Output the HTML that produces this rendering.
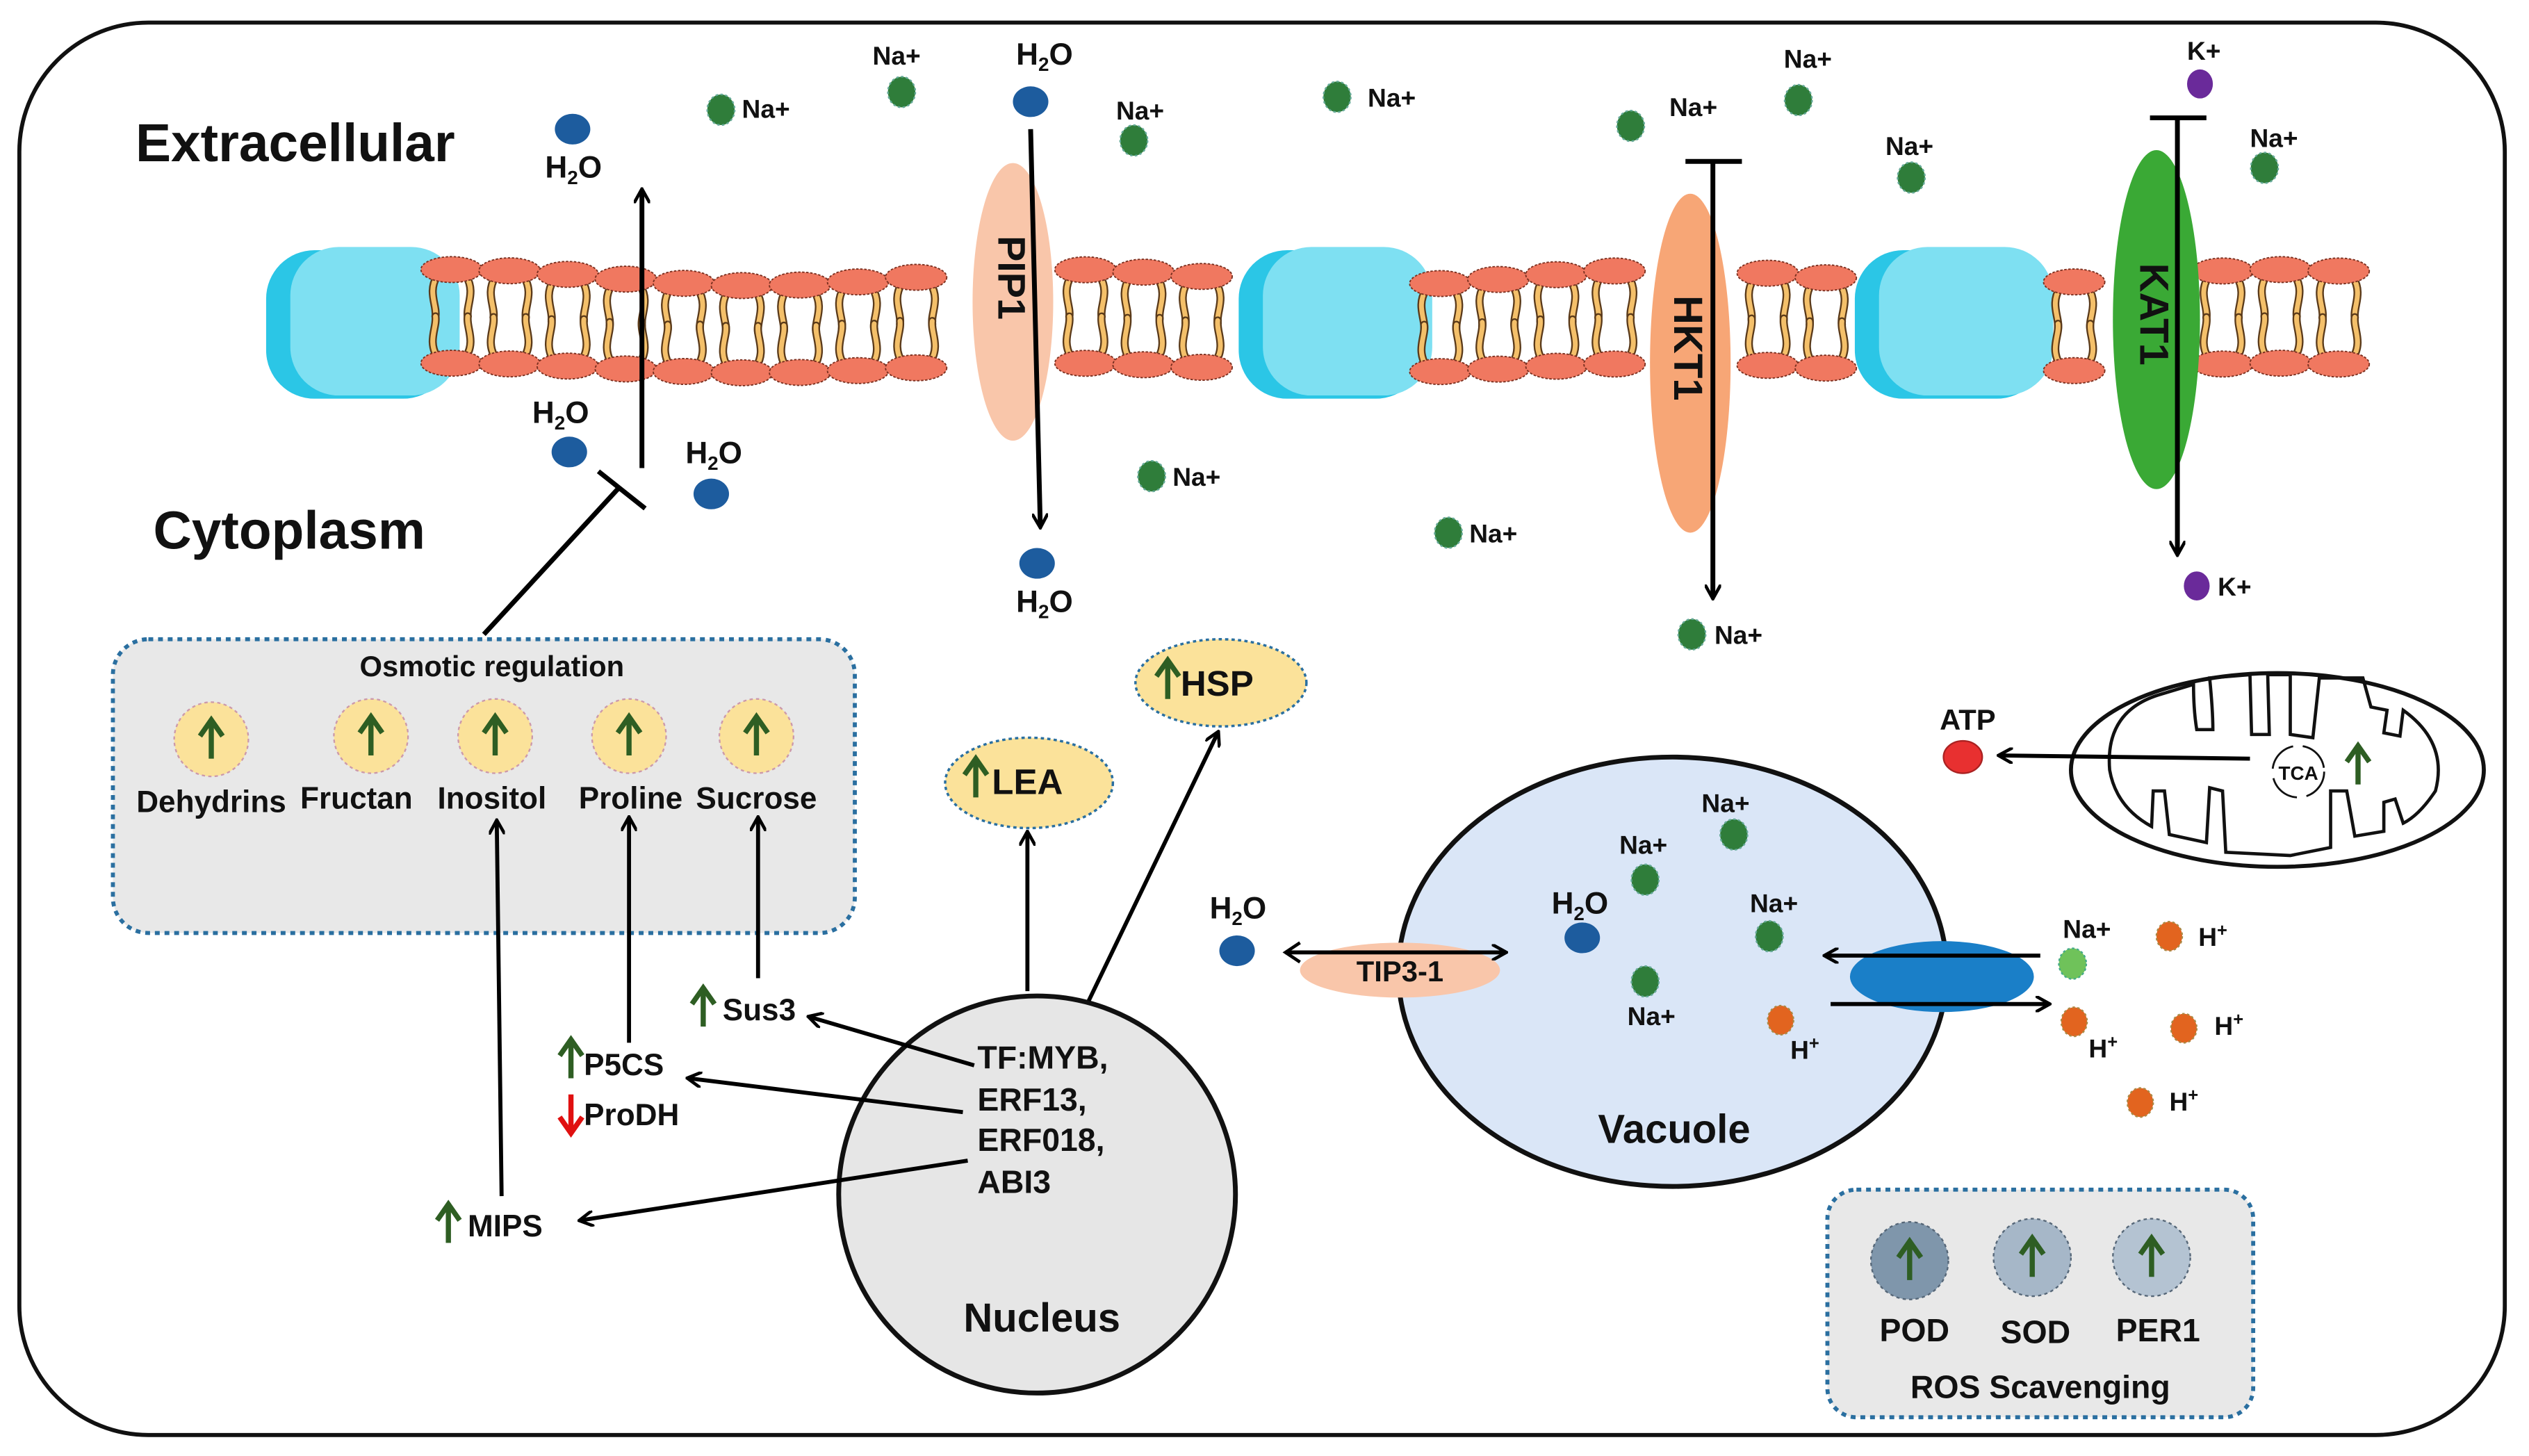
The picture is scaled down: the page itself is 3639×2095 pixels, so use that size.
<!DOCTYPE html>
<html><head><meta charset="utf-8"><style>
html,body{margin:0;padding:0;background:#fff}
svg{display:block}
text{font-family:"Liberation Sans",Arial,sans-serif;font-weight:bold;fill:#111}
</style></head><body>
<svg id="s" width="3639" height="2095" viewBox="0 0 1568 902" preserveAspectRatio="none" xmlns="http://www.w3.org/2000/svg">
<defs>
<marker id="ah" markerWidth="10" markerHeight="10" refX="8" refY="5" orient="auto" markerUnits="userSpaceOnUse"><path d="M0,0 L9,5 L0,10" fill="none" stroke="#000" stroke-width="2"/></marker>
<g id="na"><ellipse rx="8.5" ry="9.5" fill="#2f7d3a" stroke="#6a9" stroke-width="1" stroke-dasharray="1.5 1.5"/></g>
<g id="h2o"><ellipse rx="11" ry="9.5" fill="#1d5c9e"/></g>
<g id="hp"><ellipse rx="8" ry="9" fill="#e2641f" stroke="#a84" stroke-width="1" stroke-dasharray="1.5 1.5"/></g>
<g id="ga"><line x1="0" y1="12" x2="0" y2="-10" stroke="#2e5e23" stroke-width="3.2"/><path d="M-7,-2 L0,-12 L7,-2" fill="none" stroke="#2e5e23" stroke-width="3.2"/></g>
</defs>
<rect x="12" y="14" width="1541" height="875" rx="80" fill="#fff" stroke="#111" stroke-width="2.5"/>

<!-- cyan proteins -->
<rect x="165" y="155" width="115" height="92" rx="30" fill="#2bc6e6"/>
<rect x="180" y="153" width="105" height="92" rx="30" fill="#7ee0f2"/>
<rect x="768" y="155" width="115" height="92" rx="30" fill="#2bc6e6"/>
<rect x="783" y="153" width="105" height="92" rx="30" fill="#7ee0f2"/>
<rect x="1150" y="155" width="118" height="92" rx="30" fill="#2bc6e6"/>
<rect x="1165" y="153" width="108" height="92" rx="30" fill="#7ee0f2"/>
<g id="mem"></g>

<!-- transporters -->
<ellipse cx="628" cy="187" rx="25" ry="86" fill="#f9c6aa"/>
<text x="0" y="0" font-size="24" transform="translate(619,146) rotate(90)">PIP1</text>
<ellipse cx="1048" cy="225" rx="25" ry="105" fill="#f7a676"/>
<text font-size="25" transform="translate(1038,183) rotate(90)">HKT1</text>
<ellipse cx="1337" cy="198" rx="27" ry="105" fill="#3aa935"/>
<text font-size="25" transform="translate(1327,163) rotate(90)">KAT1</text>

<text x="84" y="100" font-size="33">Extracellular</text>
<text x="95" y="340" font-size="33">Cytoplasm</text>

<!-- ions -->
<g font-size="16">
<use href="#na" x="447" y="68"/><text x="460" y="73">Na+</text>
<use href="#na" x="559" y="57"/><text x="541" y="40">Na+</text>
<use href="#na" x="703" y="87"/><text x="692" y="74">Na+</text>
<use href="#na" x="829" y="60"/><text x="848" y="66">Na+</text>
<use href="#na" x="1011" y="78"/><text x="1035" y="72">Na+</text>
<use href="#na" x="1115" y="62"/><text x="1106" y="42">Na+</text>
<use href="#na" x="1185" y="110"/><text x="1169" y="96">Na+</text>
<use href="#na" x="1404" y="104"/><text x="1395" y="91">Na+</text>
<use href="#na" x="714" y="295"/><text x="727" y="301">Na+</text>
<use href="#na" x="898" y="330"/><text x="911" y="336">Na+</text>
<use href="#na" x="1049" y="393"/><text x="1063" y="399">Na+</text>
<ellipse cx="1364" cy="52" rx="8" ry="9" fill="#6a2a9a"/><text x="1356" y="37">K+</text>
<ellipse cx="1362" cy="363" rx="8" ry="9" fill="#6a2a9a"/><text x="1375" y="369">K+</text>
</g>
<g font-size="19">
<use href="#h2o" x="355" y="80"/><text x="338" y="110">H<tspan font-size="12" dy="4">2</tspan><tspan dy="-4">O</tspan></text>
<use href="#h2o" x="639" y="63"/><text x="630" y="40">H<tspan font-size="12" dy="4">2</tspan><tspan dy="-4">O</tspan></text>
<use href="#h2o" x="353" y="280"/><text x="330" y="262">H<tspan font-size="12" dy="4">2</tspan><tspan dy="-4">O</tspan></text>
<use href="#h2o" x="441" y="306"/><text x="425" y="287">H<tspan font-size="12" dy="4">2</tspan><tspan dy="-4">O</tspan></text>
<use href="#h2o" x="643" y="349"/><text x="630" y="379">H<tspan font-size="12" dy="4">2</tspan><tspan dy="-4">O</tspan></text>
<use href="#h2o" x="767" y="589"/><text x="750" y="569">H<tspan font-size="12" dy="4">2</tspan><tspan dy="-4">O</tspan></text>
</g>

<!-- membrane arrows -->
<g stroke="#000" stroke-width="3" fill="none">
<line x1="398" y1="290" x2="398" y2="118" marker-end="url(#ah)"/>
<line x1="300" y1="393" x2="383" y2="303"/>
<line x1="371" y1="292" x2="400" y2="315"/>
<line x1="639" y1="80" x2="645" y2="326" marker-end="url(#ah)"/>
<line x1="1045" y1="100" x2="1080" y2="100"/>
<line x1="1062" y1="100" x2="1062" y2="370" marker-end="url(#ah)"/>
<line x1="1333" y1="73" x2="1368" y2="73"/>
<line x1="1350" y1="73" x2="1350" y2="343" marker-end="url(#ah)"/>
</g>

<!-- osmotic box -->
<rect x="70" y="396" width="460" height="182" rx="22" fill="#e8e8e8" stroke="#2a6fa0" stroke-width="2.5" stroke-dasharray="3 3"/>
<text x="305" y="419" font-size="18" text-anchor="middle">Osmotic regulation</text>
<g>
<circle cx="131" cy="458" r="23" fill="#fbe29a" stroke="#c9a" stroke-width="1" stroke-dasharray="2 2"/><use href="#ga" x="131" y="458"/>
<circle cx="230" cy="456" r="23" fill="#fbe29a" stroke="#c9a" stroke-width="1" stroke-dasharray="2 2"/><use href="#ga" x="230" y="456"/>
<circle cx="307" cy="456" r="23" fill="#fbe29a" stroke="#c9a" stroke-width="1" stroke-dasharray="2 2"/><use href="#ga" x="307" y="456"/>
<circle cx="390" cy="456" r="23" fill="#fbe29a" stroke="#c9a" stroke-width="1" stroke-dasharray="2 2"/><use href="#ga" x="390" y="456"/>
<circle cx="469" cy="456" r="23" fill="#fbe29a" stroke="#c9a" stroke-width="1" stroke-dasharray="2 2"/><use href="#ga" x="469" y="456"/>
</g>
<g font-size="19" text-anchor="middle">
<text x="131" y="503">Dehydrins</text><text x="221" y="501">Fructan</text><text x="305" y="501">Inositol</text><text x="391" y="501">Proline</text><text x="469" y="501">Sucrose</text>
</g>

<!-- genes -->
<g font-size="19">
<use href="#ga" x="436" y="624"/><text x="448" y="632">Sus3</text>
<use href="#ga" x="354" y="656"/><text x="362" y="666">P5CS</text>
<g transform="translate(354,690) rotate(180)"><line x1="0" y1="12" x2="0" y2="-10" stroke="#e01010" stroke-width="3.2"/><path d="M-7,-2 L0,-12 L7,-2" fill="none" stroke="#e01010" stroke-width="3.2"/></g>
<text x="362" y="697">ProDH</text>
<use href="#ga" x="278" y="758"/><text x="290" y="766">MIPS</text>
</g>
<g stroke="#000" stroke-width="2.5" fill="none">
<line x1="470" y1="606" x2="470" y2="507" marker-end="url(#ah)"/>
<line x1="390" y1="646" x2="390" y2="507" marker-end="url(#ah)"/>
<line x1="311" y1="741" x2="308" y2="509" marker-end="url(#ah)"/>
</g>

<!-- nucleus -->
<circle cx="643" cy="740" r="123" fill="#e6e6e6" stroke="#111" stroke-width="3"/>
<g font-size="20"><text x="606" y="662">TF:MYB,</text><text x="606" y="688">ERF13,</text><text x="606" y="713">ERF018,</text><text x="606" y="739">ABI3</text></g>
<text x="646" y="825" font-size="25" text-anchor="middle">Nucleus</text>
<g stroke="#000" stroke-width="2.5" fill="none">
<line x1="604" y1="660" x2="502" y2="630" marker-end="url(#ah)"/>
<line x1="597" y1="689" x2="427" y2="668" marker-end="url(#ah)"/>
<line x1="600" y1="719" x2="360" y2="756" marker-end="url(#ah)"/>
<line x1="637" y1="614" x2="637" y2="516" marker-end="url(#ah)"/>
<line x1="675" y1="620" x2="755" y2="454" marker-end="url(#ah)"/>
</g>
<ellipse cx="638" cy="485" rx="52" ry="28" fill="#fbe29a" stroke="#2a6fa0" stroke-width="1.5" stroke-dasharray="2 2"/>
<use href="#ga" x="605" y="482"/><text x="615" y="492" font-size="22">LEA</text>
<ellipse cx="757" cy="423" rx="53" ry="27" fill="#fbe29a" stroke="#2a6fa0" stroke-width="1.5" stroke-dasharray="2 2"/>
<use href="#ga" x="724" y="421"/><text x="732" y="431" font-size="22">HSP</text>

<!-- vacuole -->
<ellipse cx="1037" cy="602" rx="170" ry="133" fill="#dae6f7" stroke="#111" stroke-width="3"/>
<text x="1038" y="708" font-size="25" text-anchor="middle">Vacuole</text>
<g font-size="16">
<use href="#na" x="1075" y="517"/><text x="1055" y="503">Na+</text>
<use href="#na" x="1020" y="545"/><text x="1004" y="529">Na+</text>
<use href="#na" x="1097" y="580"/><text x="1085" y="565">Na+</text>
<use href="#na" x="1020" y="608"/><text x="1009" y="635">Na+</text>
<use href="#hp" x="1104" y="632"/><text x="1110" y="656">H<tspan font-size="11" dy="-6">+</tspan></text>
</g>
<use href="#h2o" x="981" y="581"/><text x="962" y="566" font-size="19">H<tspan font-size="12" dy="4">2</tspan><tspan dy="-4">O</tspan></text>
<ellipse cx="868" cy="601" rx="62" ry="17" fill="#f9c6aa"/>
<text x="868" y="608" font-size="18" text-anchor="middle">TIP3-1</text>
<line x1="797" y1="590" x2="933" y2="590" stroke="#000" stroke-width="2.5" marker-end="url(#ah)"/>
<path d="M806,584 L797,590 L806,596" fill="none" stroke="#000" stroke-width="2"/>
<ellipse cx="1204" cy="605" rx="57" ry="22" fill="#1a7fc8"/>
<g stroke="#000" stroke-width="2.5"><line x1="1265" y1="592" x2="1132" y2="592" marker-end="url(#ah)"/><line x1="1135" y1="622" x2="1270" y2="622" marker-end="url(#ah)"/></g>
<g font-size="16">
<ellipse cx="1285" cy="597" rx="8.5" ry="9.5" fill="#6fc25a" stroke="#4a8" stroke-dasharray="1.5 1.5"/><text x="1279" y="581">Na+</text>
<use href="#hp" x="1345" y="580"/><text x="1363" y="586">H<tspan font-size="11" dy="-6">+</tspan></text>
<use href="#hp" x="1286" y="633"/><text x="1295" y="655">H<tspan font-size="11" dy="-6">+</tspan></text>
<use href="#hp" x="1354" y="637"/><text x="1373" y="641">H<tspan font-size="11" dy="-6">+</tspan></text>
<use href="#hp" x="1327" y="683"/><text x="1345" y="688">H<tspan font-size="11" dy="-6">+</tspan></text>
</g>

<!-- mitochondrion -->
<ellipse cx="1412" cy="477" rx="128" ry="60" fill="#fff" stroke="#111" stroke-width="2.5"/>
<path d="M1308,477 Q1305,440 1340,430 L1360,424 Q1360,440 1362,452 L1372,452 Q1372,440 1370,420 L1395,418 L1396,455 L1407,455 L1406,418 L1420,418 L1420,455 L1434,457 L1438,420 L1465,420 L1470,438 L1480,440 L1478,454 L1488,456 L1490,440 Q1518,460 1510,490 Q1500,505 1490,510 L1485,495 L1478,497 L1478,515 L1460,518 L1455,490 L1445,490 L1445,525 L1420,530 L1380,528 L1378,490 L1370,488 L1368,522 L1345,517 L1342,490 L1335,490 L1334,512 Q1312,500 1308,477Z" fill="none" stroke="#111" stroke-width="2"/>
<circle cx="1425" cy="478" r="16" fill="none" stroke="#111" stroke-width="1.2" stroke-dasharray="20 6"/>
<text x="1425" y="483" font-size="12" text-anchor="middle">TCA</text>
<use href="#ga" x="1462" y="474"/>
<line x1="1395" y1="470" x2="1240" y2="468" stroke="#000" stroke-width="2.5" marker-end="url(#ah)"/>
<ellipse cx="1217" cy="469" rx="12" ry="10" fill="#e83030" stroke="#a22" stroke-width="1"/>
<text x="1220" y="452" font-size="18" text-anchor="middle">ATP</text>

<!-- ROS box -->
<rect x="1133" y="737" width="264" height="141" rx="18" fill="#e8e8e8" stroke="#2a6fa0" stroke-width="2.5" stroke-dasharray="3 3"/>
<circle cx="1184" cy="781" r="24" fill="#7f96ab" stroke="#567" stroke-width="1" stroke-dasharray="2 2"/><use href="#ga" x="1184" y="781"/>
<circle cx="1260" cy="779" r="24" fill="#a6b7c8" stroke="#567" stroke-width="1" stroke-dasharray="2 2"/><use href="#ga" x="1260" y="779"/>
<circle cx="1334" cy="779" r="24" fill="#b4c3d2" stroke="#567" stroke-width="1" stroke-dasharray="2 2"/><use href="#ga" x="1334" y="779"/>
<g font-size="20" text-anchor="middle"><text x="1187" y="831">POD</text><text x="1262" y="832">SOD</text><text x="1338" y="831">PER1</text></g>
<text x="1265" y="866" font-size="20" text-anchor="middle">ROS  Scavenging</text>
</svg>
<script>
(function(){
var m=document.getElementById("mem"),out="";
var segs=[[262,595],[655,770],[875,1020],[1078,1165],[1268,1310],[1360,1482]];
function tails(x,y,d){
 var p='M'+(x-9)+','+(y+4*d)+' C'+(x-15)+','+(y+14*d)+' '+(x-9)+','+(y+22*d)+' '+(x-10)+','+(y+29*d)+' M'+(x+9)+','+(y+4*d)+' C'+(x+15)+','+(y+14*d)+' '+(x+9)+','+(y+22*d)+' '+(x+10)+','+(y+29*d);
 return '<path d="'+p+'" fill="none" stroke="#5a3a1a" stroke-width="5" stroke-linecap="round"/><path d="'+p+'" fill="none" stroke="#f4c06a" stroke-width="3" stroke-linecap="round"/>';
}
segs.forEach(function(s){
 for(var x=s[0]+18;x<=s[1]-10;x+=36){
  var o=Math.sin(x/60)*5;
  var ty=172+o, by=228+o*0.6;
  out+=tails(x,ty,1)+tails(x,by,-1);
  out+='<ellipse cx="'+x+'" cy="'+ty+'" rx="19" ry="8" fill="#f07860" stroke="#7a3020" stroke-width="0.8" stroke-dasharray="1.5 1"/>';
  out+='<ellipse cx="'+x+'" cy="'+by+'" rx="19" ry="8" fill="#f07860" stroke="#7a3020" stroke-width="0.8" stroke-dasharray="1.5 1"/>';
 }
});
m.innerHTML=out;
})();
</script>
</body></html>
